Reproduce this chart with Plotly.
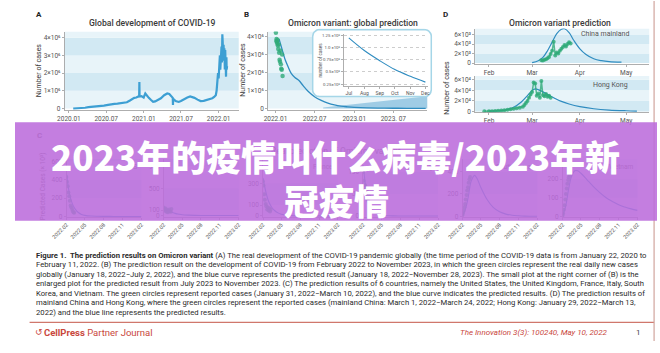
import numpy as np
import plotly.graph_objects as go

W, H = 660, 353
def fx(p): return p / W
def fy(p): return 1 - p / H

# ---------------- data ----------------
# Panel A: global daily new cases (x10^6)
a_dates = ['2020-01-22','2020-02-10','2020-03-01','2020-03-20','2020-04-05','2020-04-25','2020-05-15','2020-06-01',
           '2020-06-20','2020-07-10','2020-07-25','2020-08-10','2020-08-25','2020-09-10','2020-09-25','2020-10-10',
           '2020-10-25','2020-11-05','2020-11-15','2020-11-25','2020-12-05','2020-12-09','2020-12-10','2020-12-11',
           '2020-12-20','2020-12-31','2021-01-08','2021-01-15','2021-01-25','2021-02-05','2021-02-15','2021-02-25',
           '2021-03-10','2021-03-25','2021-04-10','2021-04-25','2021-05-05','2021-05-15','2021-05-22','2021-05-23',
           '2021-05-24','2021-06-05','2021-06-20','2021-07-01','2021-07-15','2021-08-01','2021-08-15','2021-08-25',
           '2021-09-05','2021-09-20','2021-10-05','2021-10-20','2021-11-05','2021-11-20','2021-12-01','2021-12-10',
           '2021-12-18','2021-12-22','2021-12-26','2021-12-29','2022-01-01','2022-01-03','2022-01-05','2022-01-07',
           '2022-01-09','2022-01-11','2022-01-13','2022-01-15','2022-01-17','2022-01-19','2022-01-20','2022-01-21',
           '2022-01-23','2022-01-25','2022-01-27','2022-01-29','2022-01-31','2022-02-02','2022-02-04','2022-02-06',
           '2022-02-08','2022-02-09','2022-02-11']
a_cases = [0.0, 0.003, 0.02, 0.04, 0.08, 0.09, 0.1, 0.12,
           0.16, 0.2, 0.24, 0.26, 0.27, 0.29, 0.31, 0.35,
           0.45, 0.55, 0.6, 0.62, 0.66, 0.7, 1.5, 0.68,
           0.7, 0.62, 0.85, 0.72, 0.6, 0.48, 0.38, 0.4,
           0.48, 0.58, 0.75, 0.85, 0.82, 0.7, 0.6, 0.2,
           0.55, 0.42, 0.37, 0.42, 0.52, 0.62, 0.68, 0.66,
           0.6, 0.5, 0.42, 0.43, 0.48, 0.55, 0.58, 0.65,
           0.75, 1.0, 1.6, 2.0, 1.7, 2.6, 2.3, 3.0,
           2.2, 3.3, 2.8, 3.5, 2.6, 4.2, 3.2, 3.7,
           2.7, 3.6, 3.0, 3.4, 2.2, 3.3, 2.5, 1.8,
           2.9, 2.2, 2.4]
a_xticks = ['2020-01-01','2020-07-01','2021-01-01','2021-07-01','2022-01-01']
a_xlabels = ['2020.01','2020.07','2021.01','2021.07','2022.01']
ab_yticks = [0, 1, 2, 3, 4]
ab_ylabels = ['0', '1×10⁶', '2×10⁶', '3×10⁶', '4×10⁶']

# Panel B: Omicron global prediction (x10^6)
b_obs_dates = ['2022-01-03','2022-01-05','2022-01-06','2022-01-08','2022-01-09','2022-01-11','2022-01-12','2022-01-14',
               '2022-01-16','2022-01-18','2022-01-20','2022-01-22','2022-01-24','2022-01-26','2022-01-28','2022-01-30',
               '2022-02-01','2022-02-03']
b_obs_cases = [4.2, 3.75, 3.85, 3.7, 3.6, 3.8, 3.5, 3.3, 3.55, 3.1, 2.7, 2.6, 3.2, 2.45, 2.2, 2.15, 3.0, 1.8]
b_pred_dates = ['2022-01-18','2022-01-25','2022-02-05','2022-02-15','2022-03-01','2022-03-15','2022-04-01','2022-04-20',
                '2022-05-10','2022-06-01','2022-07-01','2022-08-01','2022-09-01','2022-10-01','2022-11-01','2022-12-01',
                '2023-01-01','2023-03-01','2023-05-01','2023-07-01','2023-09-01','2023-11-28']
b_pred_cases = [3.85, 3.55, 3.1, 2.7, 2.3, 1.95, 1.72, 1.55, 1.25, 0.95, 0.65, 0.45, 0.3, 0.2, 0.13, 0.09,
                0.06, 0.03, 0.018, 0.012, 0.007, 0.004]
b_zoom_dates = ['2022-08-10', '2023-12-06', '2023-12-06', '2022-08-10']
b_zoom_cases = [0.05, 0.68, 0.0, 0.0]
b_xticks = ['2022-01-01','2022-07-01','2023-01-01','2023-07-01']
b_xlabels = ['2022.01','2022.07','2023.01','2023. 07']

# Inset of B (x10^5)
in_dates = ['2023-07-01','2023-08-01','2023-09-01','2023-10-01','2023-11-01','2023-12-01']
in_cases = [1.2, 0.94, 0.73, 0.55, 0.41, 0.29]
in_xlabels = ['Jul','Aug','Sep','Oct','Nov','Dec']
in_yticks = [0.25, 0.5, 0.75, 1.0, 1.25]
in_ylabels = ['0.25×10⁵', '0.5×10⁵', '0.75×10⁵', '1.0 ×10⁵', '1.25 ×10⁵']

# Panel D: China mainland (x10^3) and Hong Kong (x10^4)
cn_obs_dates = ['2022-03-07','2022-03-08','2022-03-09','2022-03-10','2022-03-11','2022-03-12','2022-03-13','2022-03-14',
                '2022-03-15','2022-03-16','2022-03-17','2022-03-18','2022-03-19','2022-03-20','2022-03-21','2022-03-22',
                '2022-03-23','2022-03-24','2022-03-25','2022-03-26']
cn_obs_cases = [0.6, 0.55, 0.7, 0.8, 1.0, 1.3, 1.9, 2.6, 4.5, 1.6, 2.2, 2.0, 2.6, 3.0, 3.4, 3.8, 3.5, 4.0, 4.4, 4.1]
cn_pred_dates = ['2022-03-01','2022-03-05','2022-03-08','2022-03-11','2022-03-14','2022-03-17','2022-03-20','2022-03-22',
                 '2022-03-25','2022-03-28','2022-04-01','2022-04-05','2022-04-10','2022-04-15','2022-04-20','2022-04-28']
cn_pred_cases = [0.1, 0.5, 1.2, 2.6, 4.4, 6.2, 7.1, 7.2, 6.4, 4.8, 3.0, 1.8, 0.9, 0.5, 0.3, 0.2]
hk_obs_dates = ['2022-01-29','2022-02-01','2022-02-03','2022-02-05','2022-02-07','2022-02-09','2022-02-11','2022-02-13',
                '2022-02-15','2022-02-17','2022-02-19','2022-02-21','2022-02-23','2022-02-24','2022-02-25','2022-02-26',
                '2022-02-27','2022-02-28','2022-03-01','2022-03-02','2022-03-03','2022-03-04','2022-03-05','2022-03-06',
                '2022-03-07','2022-03-08','2022-03-09','2022-03-10','2022-03-11','2022-03-12','2022-03-13']
hk_obs_cases = [0.02, 0.03, 0.05, 0.08, 0.1, 0.15, 0.2, 0.3, 0.4, 0.5, 0.6, 0.7, 0.9, 1.2, 1.6, 2.0,
                2.6, 3.2, 3.7, 5.5, 5.3, 3.0, 3.4, 2.6, 5.8, 3.1, 2.9, 3.3, 2.8, 3.0, 2.6]
hk_pred_dates = ['2022-02-01','2022-02-10','2022-02-17','2022-02-22','2022-02-26','2022-03-01','2022-03-03','2022-03-06',
                 '2022-03-10','2022-03-15','2022-03-20','2022-03-25','2022-04-01','2022-04-10','2022-04-20','2022-05-01',
                 '2022-05-08']
hk_pred_cases = [0.05, 0.2, 0.8, 1.8, 3.0, 4.0, 4.3, 4.0, 3.4, 2.6, 1.9, 1.4, 0.9, 0.5, 0.25, 0.12, 0.07]
d_xticks = ['2022-02-01','2022-03-01','2022-04-01','2022-05-01']
d_xlabels = ['Feb','Mar','Apr','May']
cn_yticks = [0, 2, 4, 6]
cn_ylabels = ['0', '2×10³', '4×10³', '6×10³']
hk_yticks = [0, 2, 4, 6]
hk_ylabels = ['0', '2×10⁴', '4×10⁴', '6×10⁴']

# Panel C: six countries (x10^3)
c_countries = ['US', 'UK', 'France', 'Italy', 'South Korea', 'Vietnam']
c_obs_dates = ['2022-01-31','2022-02-03','2022-02-07','2022-02-10','2022-02-14','2022-02-17','2022-02-21','2022-02-24',
               '2022-02-28','2022-03-03','2022-03-07','2022-03-10']
c_pred_dates = ['2022-02-01','2022-02-15','2022-03-01','2022-03-15','2022-04-01','2022-04-15','2022-05-01','2022-06-01',
                '2022-07-01','2022-08-01','2022-09-01','2022-10-01','2022-11-01','2022-12-01','2023-01-01','2023-02-01']
us_obs = [430, 380, 330, 260, 220, 170, 120, 100, 80, 60, 45, 40]
us_pred = [460, 250, 140, 80, 40, 22, 12, 4, 1.5, 0.6, 0.3, 0.1, 0.05, 0, 0, 0]
uk_obs = [150, 110, 90, 130, 70, 100, 60, 90, 110, 80, 70, 120]
uk_pred = [160, 110, 80, 55, 35, 25, 15, 7, 3, 1, 0.5, 0.2, 0.1, 0, 0, 0]
fr_obs = [320, 280, 200, 150, 110, 90, 60, 80, 50, 70, 40, 60]
fr_pred = [350, 220, 130, 80, 45, 28, 16, 6, 2, 1, 0.5, 0.2, 0.1, 0, 0, 0]
it_obs = [100, 80, 60, 70, 50, 40, 55, 35, 30, 45, 25, 30]
it_pred = [115, 60, 30, 15, 8, 4, 2, 0.5, 0.2, 0.1, 0, 0, 0, 0, 0, 0]
kr_obs = [10, 25, 50, 80, 110, 150, 190, 230, 260, 300, 330, 350]
kr_pred = [5, 60, 170, 310, 365, 330, 260, 150, 80, 40, 20, 10, 5, 2, 1, 0.5]
vn_obs = [5, 15, 35, 60, 90, 120, 150, 175, 195, 210, 220, 240]
vn_pred = [5, 50, 140, 210, 245, 245, 232, 195, 160, 128, 100, 80, 62, 50, 40, 32]
c_xticks = ['2022-02-01','2022-05-01','2022-08-01','2022-11-01','2023-02-01']
c_xlabels = ['2022.02','2022.05','2022.08','2022.11','2023.02']
c_yticks = [[0, 200, 400, 600], [0, 100, 500, 900], [0, 100, 300], [0, 50, 100], [0, 200, 400], [0, 100, 200]]

caption_lines = [
    "<b>Figure 1.  The prediction results on Omicron variant</b> (A) The real development of the COVID-19 pandemic globally (the time period of the COVID-19 data is from January 22, 2020 to",
    "February 11, 2022. (B) The prediction result on the development of COVID-19 from February 2022 to November 2023, in which the green circles represent the real daily new cases",
    "globally (January 18, 2022−July 2, 2022), and the blue curve represents the predicted result (January 18, 2022−November 28, 2023). The small plot at the right corner of (B) is the",
    "enlarged plot for the predicted result from July 2023 to November 2023. (C) The prediction results of 6 countries, namely the United States, the United Kingdom, France, Italy, South",
    "Korea, and Vietnam. The green circles represent reported cases (January 31, 2022−March 10, 2022), and the blue curve indicates the predicted results. (D) The prediction results of",
    "mainland China and Hong Kong, where the green circles represent the reported cases (mainland China: March 1, 2022−March 24, 2022; Hong Kong: January 29, 2022−March 13,",
    "2022) and the blue line represents the predicted results.",
]
banner_lines = ["2023年的疫情叫什么病毒/2023年新", "冠疫情"]

# ---------------- styles ----------------
BLUE = '#2f8cc0'
ABLUE = '#3d9fd3'
GREEN = 'rgba(46,170,120,0.8)'
BAND_D = '#d2e9f3'
BAND_L = '#e8f4f9'
AXC = '#9a9a9a'
TICK = '#555555'
TXT = '#3a3a3a'
UNDER = '#b36ccd'   # grey text seen through the banner
RED = '#c9473d'
FONT = 'Roboto, Arial, sans-serif'

fig = go.Figure()
layout = {}
shapes = []
ann = []

def ids(n):
    return ('x' if n == 1 else f'x{n}', 'y' if n == 1 else f'y{n}')

def axes(n, xd, yd, xr, yr, xt=None, xl=None, yt=None, yl=None, xtype='date', fs=6.5, xangle=0,
         visible=True, ygrid=False, ysize=None):
    xid, yid = ids(n)
    base = dict(showgrid=False, zeroline=False, showline=True, linecolor=AXC, linewidth=0.8,
                ticks='outside', ticklen=2, tickcolor=AXC, tickwidth=0.8, fixedrange=True, visible=visible)
    xa = dict(base, domain=[fx(xd[0]), fx(xd[1])], range=xr, type=xtype, anchor=yid,
              tickfont=dict(family=FONT, size=fs, color=TICK), tickangle=xangle)
    ya = dict(base, domain=[fy(yd[1]), fy(yd[0])], range=yr, anchor=xid,
              tickfont=dict(family=FONT, size=ysize or fs, color=TICK))
    if xt is not None:
        xa.update(tickmode='array', tickvals=xt, ticktext=xl)
    if yt is not None:
        ya.update(tickmode='array', tickvals=yt, ticktext=yl)
    if ygrid:
        ya.update(showgrid=True, gridcolor='#b8b8b8', griddash='dot', gridwidth=0.7)
    layout['xaxis' if n == 1 else f'xaxis{n}'] = xa
    layout['yaxis' if n == 1 else f'yaxis{n}'] = ya
    return xid, yid

def bands(n, edges, dark_first=False):
    xid, yid = ids(n)
    for i in range(len(edges) - 1):
        dark = (i % 2 == 0) == dark_first
        shapes.append(dict(type='rect', xref=f'{xid} domain', yref=yid, x0=0, x1=1,
                           y0=edges[i], y1=edges[i + 1], fillcolor=BAND_D if dark else BAND_L,
                           line_width=0, layer='below'))

def text(x, y, s, size=7, color=TXT, xa='center', ya='middle', angle=0, family=FONT, weight=None):
    f = dict(family=family, size=size, color=color)
    if weight:
        f['weight'] = weight
    ann.append(dict(x=fx(x), y=fy(y), xref='paper', yref='paper', text=s, showarrow=False,
                    xanchor=xa, yanchor=ya, textangle=angle, font=f))

# ---- Panel A ----
xa, ya = axes(1, (51, 230), (31, 111), ['2019-12-11', '2022-04-09'], [-0.11, 4.35],
              a_xticks, a_xlabels, ab_yticks, ab_ylabels)
bands(1, [0, 1, 2, 3, 4, 4.35], dark_first=False)
fig.add_trace(go.Scatter(x=a_dates, y=a_cases, mode='lines', line=dict(color=ABLUE, width=2.2),
                         xaxis=xa, yaxis=ya, hoverinfo='skip'))
text(25, 14, '<b>A</b>', size=8, color='#222')
text(141, 22, 'Global development of COVID-19', size=8.6, weight=500)
text(25, 70, 'Number of cases', size=7, angle=-90)

# ---- Panel B ----
xb, yb = axes(2, (260, 424), (31, 111), ['2021-11-27', '2023-12-06'], [-0.11, 4.27],
              b_xticks, b_xlabels, ab_yticks, ab_ylabels)
bands(2, [0, 1, 2, 3, 4, 4.27], dark_first=False)
fig.add_trace(go.Scatter(x=b_zoom_dates, y=b_zoom_cases, mode='lines', fill='toself',
                         fillcolor='rgba(70,155,205,0.45)', line=dict(width=0),
                         xaxis=xb, yaxis=yb, hoverinfo='skip'))
fig.add_trace(go.Scatter(x=b_pred_dates, y=b_pred_cases, mode='lines', line=dict(color=BLUE, width=1.3, shape='spline'),
                         xaxis=xb, yaxis=yb, hoverinfo='skip'))
fig.add_trace(go.Scatter(x=b_obs_dates, y=b_obs_cases, mode='markers',
                         marker=dict(color=GREEN, size=4.5, line=dict(width=0)),
                         xaxis=xb, yaxis=yb, hoverinfo='skip'))
text(238, 14, '<b>B</b>', size=8, color='#222')
text(347, 22, 'Omicron variant: global prediction', size=8.6, weight=500)
text(234, 70, 'Number of cases', size=7, angle=-90)

# inset frame (own invisible axes drawn above panel B)
xbox, ybox = axes(3, (305, 429), (28, 98), [0, 1], [0, 1], xtype='linear', visible=False)
bx0, bx1, by0, by1 = 306.0, 428.0, 29.0, 97.0
r = 7.0
t = np.linspace(0, np.pi / 2, 8)
corners = [(bx1 - r, by0 + r, -np.pi / 2), (bx1 - r, by1 - r, 0.0), (bx0 + r, by1 - r, np.pi / 2), (bx0 + r, by0 + r, np.pi)]
px_list, py_list = [], []
for cx, cy, a0 in corners:
    px_list += list(cx + r * np.cos(a0 + t))
    py_list += list(cy + r * np.sin(a0 + t))
px_list.append(px_list[0]); py_list.append(py_list[0])
bx = [(p - 305) / 124 for p in px_list]
by = [(98 - p) / 70 for p in py_list]
fig.add_trace(go.Scatter(x=bx, y=by, mode='lines', fill='toself', fillcolor='white',
                         line=dict(color='#a5d6e8', width=1.6), xaxis=xbox, yaxis=ybox, hoverinfo='skip'))

xi, yi = axes(4, (338, 425), (33, 86), ['2023-06-21', '2023-12-07'], [0.215, 1.29],
              in_dates, in_xlabels, in_yticks, in_ylabels, fs=5, ygrid=True, ysize=4.3)
fig.add_trace(go.Scatter(x=in_dates, y=in_cases, mode='lines', line=dict(color=BLUE, width=1.1, shape='spline'),
                         xaxis=xi, yaxis=yi, hoverinfo='skip'))
text(314, 60, 'number of cases', size=4.6, angle=-90, color='#555')

# ---- Panel D ----
xc, yc = axes(5, (473, 652), (28, 64), ['2022-01-23', '2022-05-16'], [-0.21, 7.24],
              d_xticks, d_xlabels, cn_yticks, cn_ylabels, fs=6.5)
bands(5, [0, 2, 4, 6, 7.24], dark_first=True)
fig.add_trace(go.Scatter(x=cn_pred_dates, y=cn_pred_cases, mode='lines', line=dict(color=BLUE, width=1.2, shape='spline'),
                         xaxis=xc, yaxis=yc, hoverinfo='skip'))
fig.add_trace(go.Scatter(x=cn_obs_dates, y=cn_obs_cases, mode='lines+markers', line=dict(color=GREEN, width=1.5),
                         marker=dict(color=GREEN, size=4), xaxis=xc, yaxis=yc, hoverinfo='skip'))
xh, yh = axes(6, (473, 652), (76, 113), ['2022-01-23', '2022-05-16'], [-0.19, 6.75],
              d_xticks, d_xlabels, hk_yticks, hk_ylabels, fs=6.5)
bands(6, [0, 2, 4, 6, 6.75], dark_first=True)
fig.add_trace(go.Scatter(x=hk_pred_dates, y=hk_pred_cases, mode='lines', line=dict(color=BLUE, width=1.2, shape='spline'),
                         xaxis=xh, yaxis=yh, hoverinfo='skip'))
fig.add_trace(go.Scatter(x=hk_obs_dates, y=hk_obs_cases, mode='lines+markers', line=dict(color=GREEN, width=1.5),
                         marker=dict(color=GREEN, size=4), xaxis=xh, yaxis=yh, hoverinfo='skip'))
text(443, 14, '<b>D</b>', size=8, color='#222')
text(560, 22, 'Omicron variant prediction', size=8.6, weight=500)
text(607, 33, 'China mainland', size=7, color='#555')
text(612, 85, 'Hong Kong', size=7, color='#555')
text(444, 88, 'Number of cases', size=7, angle=-90)

# ---- Panel C ----
c_left = [53, 153, 255, 358, 460, 563]
c_ranges = [[-5, 630], [-25, 1045], [-9, 527], [-2, 130], [-5, 513], [-3, 310]]
c_obs = [us_obs, uk_obs, fr_obs, it_obs, kr_obs, vn_obs]
c_pred = [us_pred, uk_pred, fr_pred, it_pred, kr_pred, vn_pred]
for i in range(6):
    n = 7 + i
    xk, yk = axes(n, (c_left[i], c_left[i] + 77), (160, 219), ['2022-02-01', '2023-02-01'], c_ranges[i],
                  c_xticks, c_xlabels, c_yticks[i], [str(v) for v in c_yticks[i]], fs=5.4, xangle=-45, ysize=6.5)
    bands(n, c_yticks[i] + [c_ranges[i][1]], dark_first=False)
    fig.add_trace(go.Scatter(x=c_pred_dates, y=c_pred[i], mode='lines', line=dict(color=BLUE, width=1.1, shape='spline'),
                             xaxis=xk, yaxis=yk, hoverinfo='skip'))
    fig.add_trace(go.Scatter(x=c_obs_dates, y=c_obs[i], mode='markers', marker=dict(color=GREEN, size=4),
                             xaxis=xk, yaxis=yk, hoverinfo='skip'))
    text(c_left[i] + 74, 168, c_countries[i], size=6.5, color=UNDER, xa='right')
text(25, 136, '<b>C</b>', size=8, color=UNDER)
text(330, 152, 'Real prediction of Omicron variant', size=8.6, color=UNDER)
text(29, 188, 'Predicted Cases (× 10³)', size=6.5, angle=-90, color=UNDER)

# ---- caption & footer ----
for k, line in enumerate(caption_lines):
    text(20, 258 + k * 9.65, line, size=7.7, color='#2a2a2a', xa='left', family='Roboto, Arial, sans-serif')
shapes.append(dict(type='line', xref='paper', yref='paper', x0=fx(15), x1=fx(657), y0=fy(326), y1=fy(326),
                   line=dict(color='#d0776c', width=1.2), layer='above'))
shapes.append(dict(type='line', xref='paper', yref='paper', x0=fx(657), x1=fx(657), y0=fy(0), y1=fy(345),
                   line=dict(color='#d0a49c', width=1.2), layer='above'))
text(19, 336, '↺', size=9, color=RED, xa='left', family='DejaVu Sans')
text(28, 336, '<b>CellPress</b> Partner Journal', size=9.5, color=RED, xa='left')
text(612, 336, '<i>The Innovation 3(3): 100240, May 10, 2022</i>', size=8, color=RED, xa='right')
text(641, 336, '1', size=8, color='#444')

# ---- banner overlay ----
shapes.append(dict(type='rect', xref='paper', yref='paper', x0=0, x1=1, y0=fy(223), y1=fy(123),
                   fillcolor='rgba(188,108,220,0.88)', line_width=0, layer='above'))
text(329, 157, banner_lines[0], size=35, color='white', family='Noto Sans CJK SC', weight=900)
text(330, 201, banner_lines[1], size=35, color='white', family='Noto Sans CJK SC', weight=900)

layout.update(width=W, height=H, margin=dict(l=0, r=0, t=0, b=0), paper_bgcolor='white',
              plot_bgcolor='rgba(0,0,0,0)', showlegend=False, shapes=shapes, annotations=ann,
              hovermode=False)
fig.update_layout(**layout)
fig.write_html('out.html', config={'displayModeBar': False, 'staticPlot': True})
